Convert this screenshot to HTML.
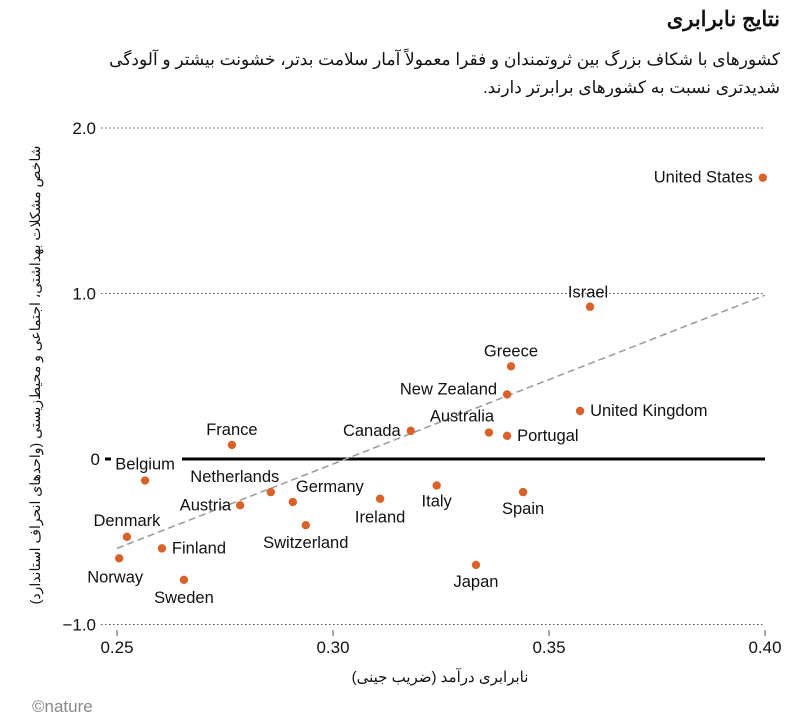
<!DOCTYPE html>
<html><head><meta charset="utf-8">
<style>
body{margin:0;background:#fff;width:811px;height:721px;overflow:hidden;font-family:"Liberation Sans","Noto Sans CJK SC",sans-serif;}
.fa{position:absolute;right:31px;direction:rtl;text-align:right;color:#111;}
</style></head>
<body>
<div class="fa" style="top:7px;font-size:21px;font-weight:bold;">نتایج نابرابری</div>
<div class="fa" style="top:46px;font-size:17px;line-height:28px;width:712px;">کشورهای با شکاف بزرگ بین ثروتمندان و فقرا معمولاً آمار سلامت بدتر، خشونت بیشتر و آلودگی شدیدتری نسبت به کشورهای برابرتر دارند.</div>
<svg id="chart" width="811" height="721" style="position:absolute;left:0;top:0">
<g id="grid"></g><g id="marks"></g>
<text transform="translate(40,375) rotate(-90)" text-anchor="middle" font-size="14" fill="#111" direction="rtl">شاخص مشکلات بهداشتی، اجتماعی و محیط‌زیستی (واحدهای انحراف استاندارد)</text>
<text x="440" y="682" text-anchor="middle" font-size="15" fill="#111" direction="rtl">نابرابری درآمد (ضریب جینی)</text>
<text x="32" y="712" font-size="17" fill="#888">©nature</text>
</svg>
<script>
const countries=["United States","Israel","Greece","New Zealand","United Kingdom","Australia","Portugal","Canada","France","Belgium","Italy","Spain","Netherlands","Ireland","Germany","Austria","Switzerland","Denmark","Finland","Norway","Japan","Sweden"];
const gini=[0.3995,0.3595,0.3412,0.3403,0.3572,0.3361,0.3403,0.318,0.2766,0.2565,0.324,0.344,0.2856,0.3109,0.2907,0.2785,0.2937,0.2523,0.2604,0.2505,0.3331,0.2655];
const index=[1.70,0.92,0.56,0.39,0.29,0.16,0.14,0.17,0.085,-0.13,-0.16,-0.20,-0.20,-0.24,-0.26,-0.28,-0.40,-0.47,-0.54,-0.60,-0.64,-0.73];
const labelPos=[["end",-10,5],["middle",-2,-9],["middle",0,-10],["end",-10,0],["start",10,5],["middle",-27,-11],["start",10,5],["end",-10,5],["middle",0,-10],["middle",0,-11],["middle",0,21],["middle",0,22],["middle",-36,-10],["middle",0,24],["middle",37,-10],["end",-9,5],["middle",0,23],["middle",0,-11],["start",10,5],["middle",-4,24],["middle",0,22],["middle",0,23]];
const xTicks=[0.25,0.30,0.35,0.40],xTickLabels=["0.25","0.30","0.35","0.40"];
const yTicks=[2,1,0,-1],yTickLabels=["2.0","1.0","0","\u22121.0"];
const trend=[[0.25,-0.54],[0.40,0.99]];
const X=v=>117+(v-0.25)/0.15*648, Y=v=>459-v*165.5;
const NS="http://www.w3.org/2000/svg";
function mk(t,a,p){const e=document.createElementNS(NS,t);for(const k in a)e.setAttribute(k,a[k]);p.appendChild(e);return e;}
const grid=document.getElementById('grid'),marks=document.getElementById('marks');
yTicks.forEach((v,i)=>{
  const t=mk('text',{x:v===0?100:96,y:Y(v)+6,'text-anchor':'end','font-size':17,fill:'#111'},grid);t.textContent=yTickLabels[i];
  
  if(v!==0){const l=mk('line',{x1:101,x2:765,y1:Y(v),y2:Y(v),stroke:'#555','stroke-dasharray':'1.5 2.5','stroke-width':1},grid);
    }
  else{const d=mk('line',{x1:105,x2:111,y1:Y(0),y2:Y(0),stroke:'#000','stroke-width':3},grid);
    const z=mk('line',{x1:182,x2:765,y1:Y(0),y2:Y(0),stroke:'#000','stroke-width':3},grid);}
});
xTicks.forEach((v,i)=>{
  const t=mk('text',{x:X(v),y:653,'text-anchor':'middle','font-size':17,fill:'#111'},grid);t.textContent=xTickLabels[i];
  
  const k=mk('line',{x1:X(v),x2:X(v),y1:630,y2:636,stroke:'#555'},grid);
});
const tl=mk('line',{x1:X(trend[0][0]),y1:Y(trend[0][1]),x2:X(trend[1][0]),y2:Y(trend[1][1]),stroke:'#999','stroke-width':1.5,'stroke-dasharray':'7 4'},marks);

countries.forEach((c,i)=>{
  const cx=X(gini[i]),cy=Y(index[i]);
  const p=mk('circle',{cx:cx,cy:cy,r:4.2,fill:'#d9622b'},marks);
  
  const lp=labelPos[i];
  const t=mk('text',{x:cx+lp[1],y:cy+lp[2],'text-anchor':lp[0],'font-size':16.5,fill:'#111'},marks);t.textContent=c;
  
});
</script>
</body></html>
